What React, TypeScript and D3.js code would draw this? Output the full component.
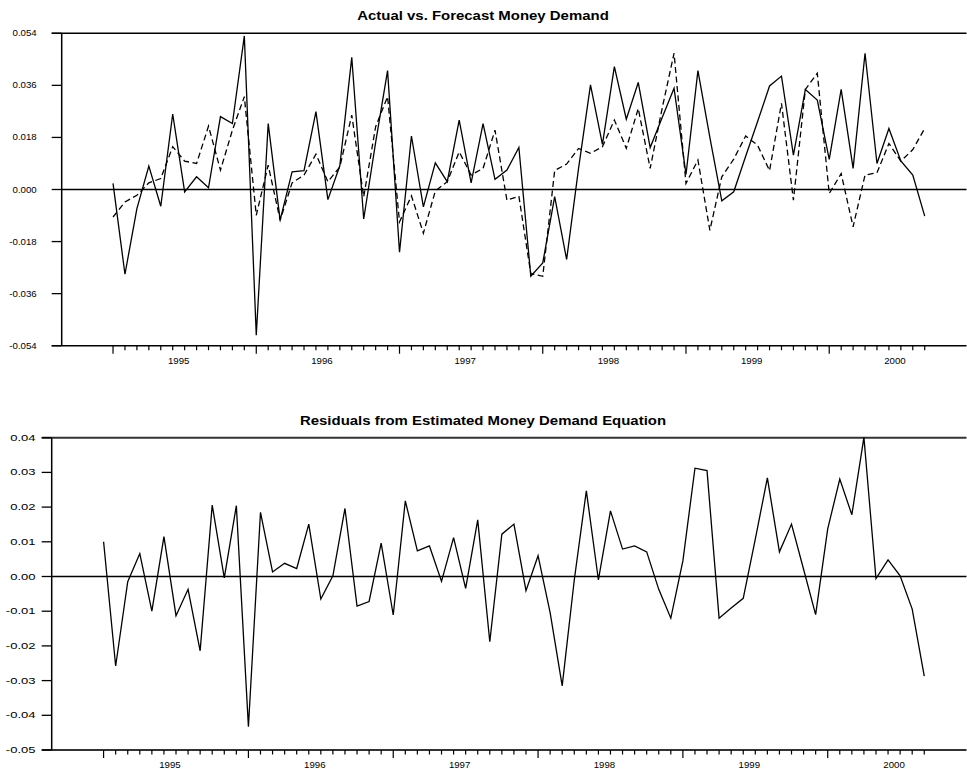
import React from "react";
import * as d3 from "d3";

// ---- Data (monthly, 1995:01 .. 2000:09) ----
const years = ["1995", "1996", "1997", "1998", "1999", "2000"];

const actual = [
  0.0021, -0.0293, -0.0066, 0.0081, -0.0058, 0.0261, -0.0008, 0.0044, 0.0006, 0.0252, 0.0228, 0.0531,
  -0.0504, 0.0228, -0.0106, 0.0061, 0.0065, 0.0269, -0.0035, 0.0082, 0.0457, -0.0102, 0.0163, 0.0411,
  -0.0217, 0.0185, -0.006, 0.0092, 0.0027, 0.024, 0.0023, 0.0228, 0.0035, 0.0067, 0.0145, -0.03,
  -0.0254, -0.0025, -0.0242, 0.0073, 0.0362, 0.0156, 0.0425, 0.0243, 0.037, 0.0145, 0.0248, 0.035,
  0.0052, 0.0411, 0.018, -0.0039, -0.0008, 0.0115, 0.0235, 0.0358, 0.0392, 0.0119, 0.0346, 0.0309,
  0.0104, 0.0346, 0.0073, 0.0471, 0.009, 0.0211, 0.0099, 0.005, -0.0092,
];

const forecast = [
  -0.0095, -0.0043, -0.002, 0.0023, 0.0038, 0.0148, 0.0098, 0.009, 0.0219, 0.0067, 0.0205, 0.0321,
  -0.0089, 0.0084, -0.0106, 0.0023, 0.005, 0.0122, 0.0027, 0.0078, 0.0257, -0.0025, 0.0217, 0.0321,
  -0.0112, -0.0022, -0.0151, -0.0005, 0.0027, 0.013, 0.005, 0.0073, 0.0205, -0.0037, -0.0023, -0.0291,
  -0.03, 0.0066, 0.0088, 0.0142, 0.0125, 0.0148, 0.024, 0.0142, 0.028, 0.0073, 0.028, 0.0471,
  0.0021, 0.0102, -0.0141, 0.0044, 0.0105, 0.0185, 0.0153, 0.0065, 0.0298, -0.0037, 0.0346, 0.0402,
  -0.0014, 0.0055, -0.0129, 0.005, 0.0058, 0.0159, 0.0098, 0.0138, 0.0211,
];

const residuals = [
  0.01, -0.0258, -0.0015, 0.0066, -0.01, 0.0115, -0.0113, -0.0037, -0.0214, 0.0206, -0.0004, 0.0204,
  -0.0433, 0.0185, 0.0013, 0.0038, 0.0023, 0.0151, -0.0065, 0.0002, 0.0196, -0.0085, -0.0072, 0.0096,
  -0.0111, 0.0218, 0.0074, 0.0088, -0.0014, 0.0112, -0.0034, 0.0163, -0.0188, 0.0122, 0.0151, -0.0041,
  0.006, -0.0104, -0.0315, -0.001, 0.0247, -0.001, 0.0189, 0.0079, 0.0088, 0.0071, -0.0037, -0.012,
  0.0045, 0.0312, 0.0305, -0.012, -0.0091, -0.0063, 0.0108, 0.0284, 0.0071, 0.0151, 0.0021, -0.011,
  0.0137, 0.0281, 0.0178, 0.0401, -0.0006, 0.0048, 0.0002, -0.0094, -0.0287,
];

const topTickValues = [0.054, 0.036, 0.018, 0.0, -0.018, -0.036, -0.054];
const topTickLabels = ["0.054", "0.036", "0.018", "0.000", "-0.018", "-0.036", "-0.054"];
const botTickValues = [0.04, 0.03, 0.02, 0.01, 0.0, -0.01, -0.02, -0.03, -0.04, -0.05];
const botTickLabels = ["0.04", "0.03", "0.02", "0.01", "0.00", "-0.01", "-0.02", "-0.03", "-0.04", "-0.05"];

const titleTop = "Actual vs. Forecast Money Demand";
const titleBottom = "Residuals from Estimated Money Demand Equation";

const FONT = "'Liberation Sans', Arial, Helvetica, sans-serif";

function SText({ x, y, children, anchor = "middle", size = 8.4, weight = "normal", sx = 1.15 }: any) {
  return (
    <text
      transform={`translate(${x},${y}) scale(${sx},1)`}
      textAnchor={anchor}
      fontFamily={FONT}
      fontSize={size}
      fontWeight={weight}
      fill="#000"
    >
      {children}
    </text>
  );
}

function Panel({ left, top, bottom, right, domain, tickValues, tickLabels, series, title, titleY, frameColor, frameWidth, labelScale, labelEnd, yearBaselineOffset }: any) {
  const n = series[0].values.length;
  const x = d3.scaleLinear().domain([-4.3, 71.5]).range([left, right]);
  const y = d3.scaleLinear().domain(domain).range([bottom, top]);
  const idx = d3.range(n);
  const line = (vals: number[]) =>
    d3.line<number>().x((_, i) => x(i)).y((v) => y(v))(vals) || "";
  const tickLen = 10;
  return (
    <g>
      <SText x={483} y={titleY} size={13} weight="bold">{title}</SText>
      <line x1={left - tickLen} x2={right} y1={y(domain[1])} y2={y(domain[1])} stroke={frameColor} strokeWidth={frameWidth} />
      <line x1={left - tickLen} x2={right} y1={y(domain[0])} y2={y(domain[0])} stroke={frameColor} strokeWidth={frameWidth} />
      <line x1={left} x2={left} y1={y(domain[1])} y2={y(domain[0])} stroke="#000" strokeWidth={1.5} />
      <line x1={left} x2={right} y1={y(0)} y2={y(0)} stroke="#000" strokeWidth={1.3} />
      {tickValues.map((v: number, i: number) => (
        <g key={"yt" + i}>
          <line x1={left - tickLen} x2={left} y1={y(v)} y2={y(v)} stroke="#000" strokeWidth={1.3} />
          <SText x={labelEnd} y={y(v) + 3} anchor="end" sx={labelScale}>{tickLabels[i]}</SText>
        </g>
      ))}
      {idx.map((i) => (
        <line
          key={"xt" + i}
          x1={x(i)}
          x2={x(i)}
          y1={y(domain[0])}
          y2={y(domain[0]) + (i % 12 === 0 ? 8 : 4.5)}
          stroke="#000"
          strokeWidth={1.2}
        />
      ))}
      {years.map((yr, k) => (
        <SText key={yr} x={x(12 * k + 5.5)} y={y(domain[0]) + yearBaselineOffset}>{yr}</SText>
      ))}
      {series.map((s: any, k: number) => (
        <path key={"s" + k} d={line(s.values)} fill="none" stroke="#000" strokeWidth={1.3} strokeDasharray={s.dash} strokeLinejoin="miter" />
      ))}
    </g>
  );
}

export default function App() {
  return (
    <svg width={967} height={769} style={{ position: "absolute", left: 0, top: 0, background: "#fff" }}>
      <rect x={0} y={0} width={967} height={769} fill="#fff" />
      <Panel
        left={61.7}
        right={966.5}
        top={33.3}
        bottom={345.7}
        domain={[-0.054, 0.054]}
        tickValues={topTickValues}
        tickLabels={topTickLabels}
        series={[
          { values: forecast, dash: "6,3.5" },
          { values: actual, dash: undefined },
        ]}
        title={titleTop}
        titleY={19.5}
        frameColor="#000"
        frameWidth={1.5}
        labelScale={1.15}
        labelEnd={36.7}
        yearBaselineOffset={18.5}
      />
      <Panel
        left={51.7}
        right={966.5}
        top={437.7}
        bottom={750}
        domain={[-0.05, 0.04]}
        tickValues={botTickValues}
        tickLabels={botTickLabels}
        series={[{ values: residuals, dash: undefined }]}
        title={titleBottom}
        titleY={425}
        frameColor="#333"
        frameWidth={2}
        labelScale={1.55}
        labelEnd={35.5}
        yearBaselineOffset={17.7}
      />
    </svg>
  );
}
